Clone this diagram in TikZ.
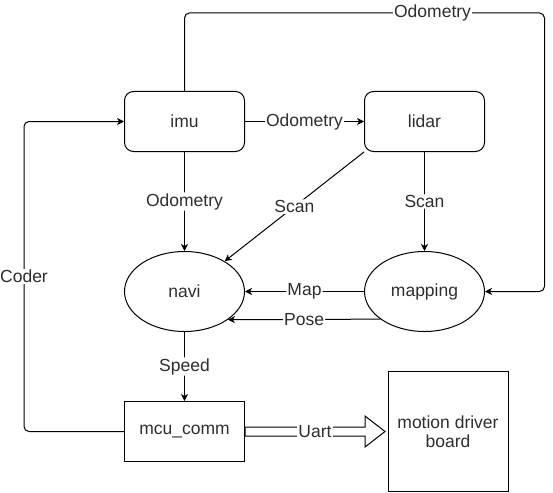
\documentclass[tikz,border=0pt]{standalone}
\usepackage{fontspec}
\setmainfont{Liberation Sans}
\usetikzlibrary{shapes.geometric,arrows.meta,calc}
\begin{document}
\begin{tikzpicture}[x=1pt,y=-1pt,
  font=\fontsize{17.5}{18.7}\selectfont,
  line width=1pt,
  every node/.style={text=black!82},
  box/.style={draw=black, minimum width=120pt, minimum height=60pt, inner sep=0pt},
  rbox/.style={box, rounded corners=9pt},
  oval/.style={draw=black, ellipse, minimum width=120pt, minimum height=80pt, inner sep=0pt},
  conn/.style={-{Stealth[length=7pt,width=7pt,inset=2pt]}, rounded corners=5pt},
  lbl/.style={fill=white, inner sep=1pt}
]
\useasboundingbox (0,0) rectangle (553,492);

% nodes
\node[rbox] (imu) at (184.5,121.5) {imu};
\node[rbox] (lidar) at (424.5,121.5) {lidar};
\node[oval] (navi) at (184.5,291.5) {navi};
\node[oval] (mapping) at (424.5,291.5) {mapping};
\node[box] (mcu) at (184.5,431.5) {mcu\_comm};
\node[box, minimum height=120pt, align=center] (board) at (448,431.5) {motion driver\\board};

% helper coordinates
\coordinate (tl) at (184.5,13);
\coordinate (tr) at (544.5,13);
\coordinate (bl) at (24,431.5);
\coordinate (tl2) at (24,121.5);

% connectors
\draw[conn] (imu.north) -- (tl) -- node[lbl,pos=0.689]{Odometry} (tr) |- (mapping.east);
\draw[conn] (imu.east) -- node[lbl]{Odometry} (lidar.west);
\draw[conn] (imu.south) -- node[lbl]{Odometry} (navi.north);
\draw[conn] (lidar.south) -- node[lbl]{Scan} (mapping.north);
\draw[conn] (lidar.south west) -- node[lbl]{Scan} (navi.37);
\draw[conn] (mapping.west) -- node[lbl]{Map} (navi.east);
\draw[conn] (mapping.212.6) -- node[lbl]{Pose} (navi.327.4);
\draw[conn] (navi.south) -- node[lbl]{Speed} (mcu.north);
\draw[conn] (mcu.west) -- (bl) -- node[lbl]{Coder} (tl2) -- (imu.west);

% Uart flex arrow
\coordinate (tip) at ($(board.west)+(-2.5,0)$);
\draw[fill=white, line join=miter]
  ($(mcu.east)+(0,-4.5)$) -- ($(tip)+(-20,-4.5)$) -- ($(tip)+(-20,-15.5)$) -- (tip)
  -- ($(tip)+(-20,15.5)$) -- ($(tip)+(-20,4.5)$) -- ($(mcu.east)+(0,4.5)$) -- cycle;
\node[lbl] (uart) at ($(mcu.east)!0.5!(tip)$) {Uart};
\end{tikzpicture}
\end{document}
